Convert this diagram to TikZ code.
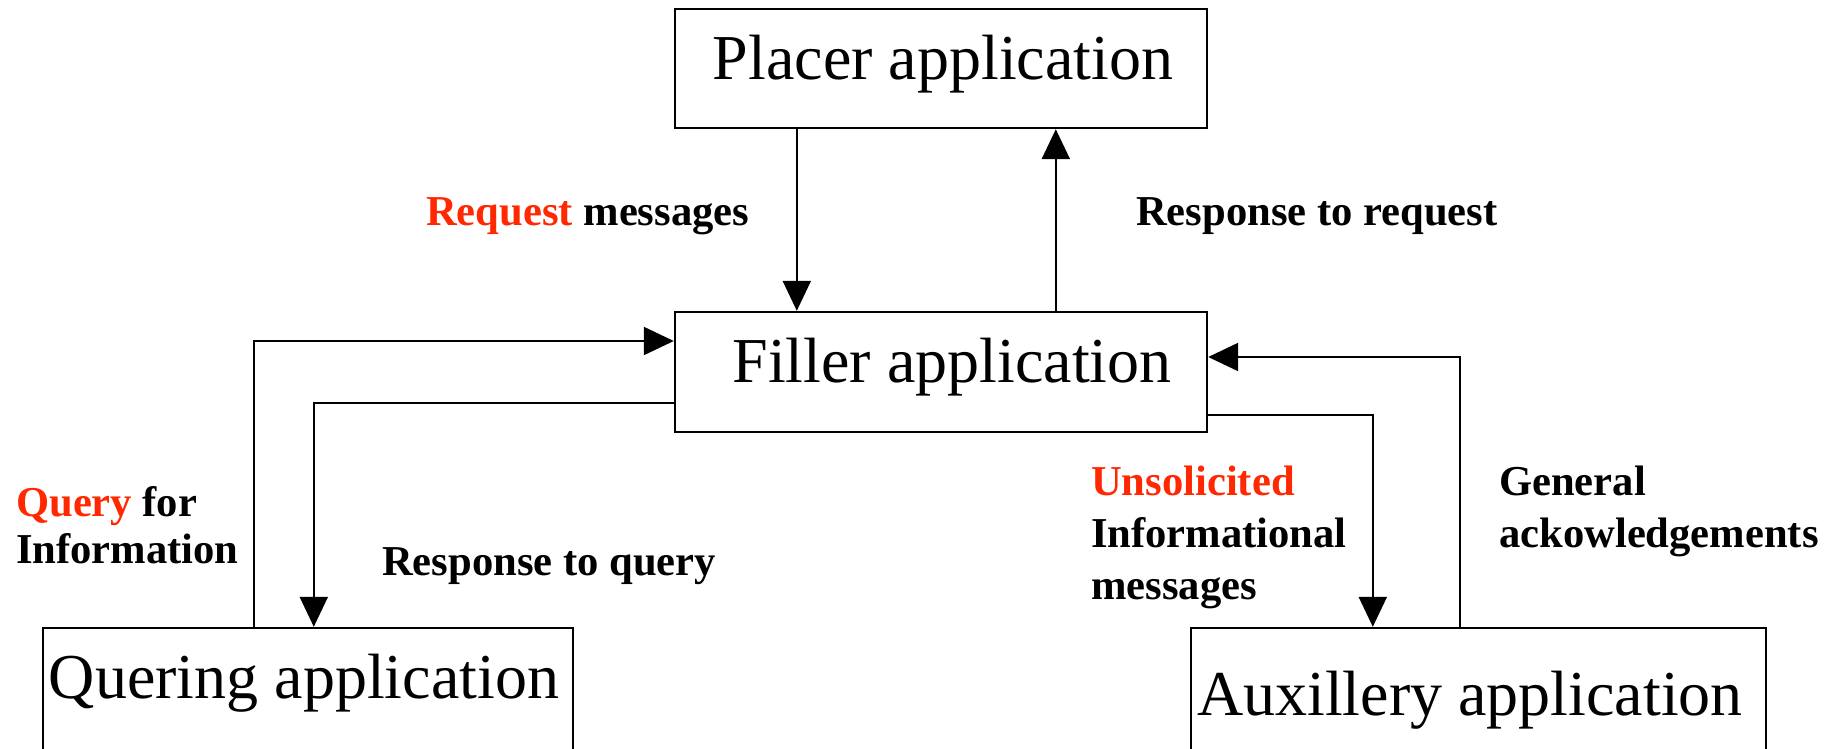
\documentclass[tikz,border=0pt]{standalone}
\usepackage{fontspec}
\setmainfont{Liberation Serif}
\usetikzlibrary{arrows.meta}
\definecolor{hlred}{RGB}{255,40,0}
\begin{document}
\begin{tikzpicture}[x=1pt,y=-1pt,
  box/.style={draw, line width=2.4pt, inner sep=0pt},
  boxtext/.style={inner sep=0pt, anchor=base, font=\fontsize{64}{77}\selectfont},
  lbl/.style={inner sep=0pt, align=left, font=\bfseries\fontsize{42.6}{52}\selectfont},
  arr/.style={line width=2.2pt, -{Triangle[length=30pt,width=28pt]}}]
\clip (0,0) rectangle (1832,748);
\fill[white] (0,0) rectangle (1832,748);
% boxes
\node[box, minimum width=532pt, minimum height=119pt] (placer) at (941,68.5) {};
\node[box, minimum width=532pt, minimum height=120pt] (filler) at (941,372) {};
\node[box, minimum width=530pt, minimum height=142pt] (quering) at (308,699) {};
\node[box, minimum width=575pt, minimum height=142pt] (aux) at (1478.5,699) {};
% box texts
\node[boxtext] (placertxt) at (943,79) {Placer application};
\node[boxtext] (fillertxt) at (952,382) {Filler application};
\node[boxtext] (queringtxt) at (304,698) {Quering application};
\node[boxtext] (auxtxt) at (1470,715) {Auxillery application};
% connectors
\draw[arr] ([xshift=123pt]placer.south west) -- ([xshift=123pt]filler.north west);
\draw[arr] ([xshift=382pt]filler.north west) -- ([xshift=382pt]placer.south west);
\draw[arr] ([xshift=212pt]quering.north west) |- ([yshift=31pt]filler.west);
\draw[arr] ([yshift=-31pt]filler.west) -| ([xshift=272pt]quering.north west);
\draw[arr] ([yshift=-43pt]filler.east) -| ([xshift=183pt]aux.north west);
\draw[arr] ([xshift=270pt]aux.north west) |- ([yshift=15pt]filler.east);
% labels
\node[lbl, anchor=base west] (reqlbl) at (426,225) {\textcolor{hlred}{Request} messages};
\node[lbl, anchor=base west] (resplbl) at (1136,225) {Response to request};
\node[lbl, anchor=north west] (querylbl) at (16,486) {\textcolor{hlred}{Query} for\\[-5pt]Information};
\node[lbl, anchor=base west] (respqlbl) at (382,575) {Response to query};
\node[lbl, anchor=north west] (unsollbl) at (1091,466) {\textcolor{hlred}{Unsolicited}\\Informational\\messages};
\node[lbl, anchor=north west] (genlbl) at (1499,466) {General\\ackowledgements};
\end{tikzpicture}
\end{document}
